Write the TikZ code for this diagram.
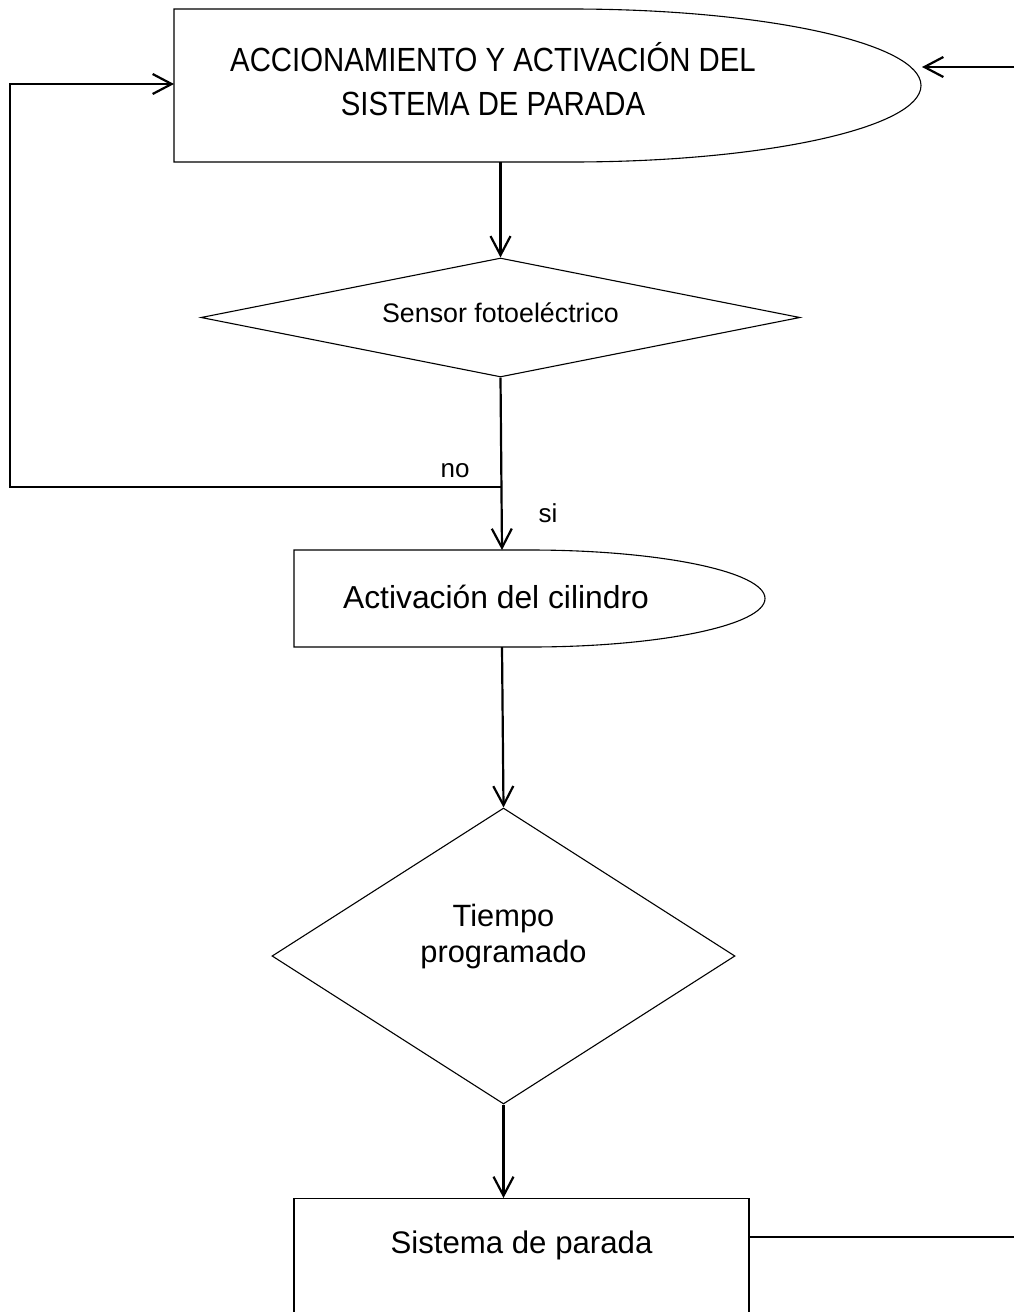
\documentclass[tikz,border=0pt]{standalone}
\usepackage{fontspec}
\setmainfont{Liberation Sans}
\newfontfamily\narrowsans[FakeStretch=0.876]{Liberation Sans}
\usetikzlibrary{arrows.meta, shapes.geometric, positioning}

\begin{document}
\begin{tikzpicture}[
  x=0.5pt, y=0.5pt,
  outline/.style={draw, line width=0.55pt},
  decision/.style={diamond, draw, line width=0.55pt, inner sep=0pt, align=center},
  flowtext/.style={align=center, inner sep=0pt},
  arr/.style={-{Straight Barb[length=9.5pt, width=10pt]}, line width=1.1pt},
  link/.style={line width=1.1pt},
]
\useasboundingbox (0,0) rectangle (1014,-1312);
\clip (0,0) rectangle (1014,-1312);

% inicio
\draw[outline] (174,-162) -- (174,-9) -- (571,-9)
  arc[start angle=90, end angle=-90, x radius=350, y radius=76.5] -- cycle;
\node[flowtext, anchor=base, font={\narrowsans\fontsize{16.75}{21.75}\selectfont}] (accion)
  at (493,-115) {ACCIONAMIENTO Y ACTIVACIÓN DEL\\SISTEMA DE PARADA};
\coordinate (accion-s) at (502,-162);
\coordinate (accion-w) at (174,-84);
\coordinate (accion-e) at (922,-67);
\coordinate (retorno) at (1014,-67);

% sensor
\node[decision, minimum width=299.5pt, minimum height=59.5pt, aspect=5,
      font=\fontsize{13.4}{16}\selectfont, text depth=5pt] (sensor)
  at (500.5,-317.5) {Sensor fotoeléctrico};

% cilindro
\draw[outline] (294,-647) -- (294,-550) -- (530,-550)
  arc[start angle=90, end angle=-90, x radius=235, y radius=48.5] -- cycle;
\node[flowtext, anchor=base, font=\fontsize{15.9}{19}\selectfont] (cilindro)
  at (496,-608) {Activación del cilindro};
\coordinate (cilindro-n) at (502,-550);
\coordinate (cilindro-s) at (502,-647);

% tiempo
\node[decision, minimum width=231.5pt, minimum height=148pt, aspect=1.56,
      font=\fontsize{15.4}{18}\selectfont, text depth=23pt] (tiempo)
  at (503.5,-956) {Tiempo\\programado};

% parada
\node[outline, rectangle, anchor=north, minimum width=227.5pt, inner sep=0pt,
      text height=27.5pt, text depth=45pt, font=\fontsize{15.6}{18}\selectfont] (parada)
  at (521.5,-1198) {Sistema de parada};
\coordinate (parada-e) at (749,-1237);
\coordinate (salida) at (1014,-1237);

% conexiones
\coordinate (junta) at (502,-487);
\coordinate (lazo) at (10,-487);
\draw[arr] (sensor.north |- accion-s) -- (sensor.north);
\draw[arr] (sensor.south) -- (cilindro-n);
\draw[arr] (junta) -- (lazo) |- (accion-w);
\draw[arr] (cilindro-s) -- (tiempo.north);
\draw[arr] (tiempo.south) -- (tiempo.south |- parada.north);
\draw[link] (parada-e) -- (salida);
\draw[arr] (retorno) -- (accion-e);

\node[anchor=base, font=\fontsize{13}{15}\selectfont] (no) at (455,-477) {no};
\node[anchor=base, font=\fontsize{13}{15}\selectfont] (si) at (548,-522) {si};
\end{tikzpicture}
\end{document}
